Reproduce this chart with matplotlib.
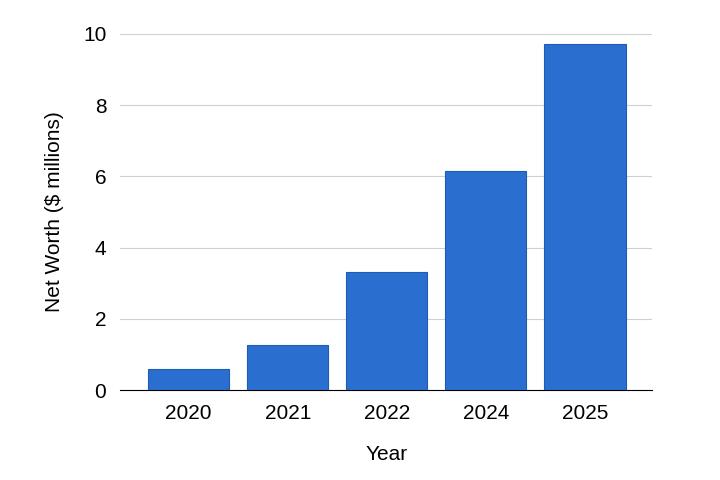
import matplotlib
matplotlib.use("Agg")
import matplotlib.pyplot as plt

years = ["2020", "2021", "2022", "2024", "2025"]
net_worth = [0.6, 1.26, 3.31, 6.15, 9.72]
yticks = [0, 2, 4, 6, 8, 10]

plt.rcParams['font.family'] = ['Liberation Sans', 'DejaVu Sans']
fig = plt.figure(figsize=(7.2, 4.8), dpi=100)
ax = fig.add_axes([0.167, 0.1875, 0.739, 0.742])
x = range(len(years))
ax.bar(x, net_worth, width=0.82, color="#2a6fcf", edgecolor="#1f5bb0", linewidth=0.8, zorder=3)
ax.set_xticks(list(x))
ax.set_xticklabels(years, fontsize=15)
ax.set_yticks(yticks)
ax.set_yticklabels([str(v) for v in yticks], fontsize=15)
ax.set_ylim(0, 10)
ax.set_xlim(-0.69, 4.68)
ax.grid(axis="y", color="#d0d0d0", linewidth=0.8, zorder=0)
ax.tick_params(length=0, pad=10)
for s in ["left", "right", "top"]:
    ax.spines[s].set_visible(False)
ax.spines["bottom"].set_color("black")
ax.set_xlabel("Year", fontsize=15, labelpad=16)
ax.set_ylabel("Net Worth ($ millions)", fontsize=15, labelpad=14)
fig.savefig("out.png", dpi=100)
